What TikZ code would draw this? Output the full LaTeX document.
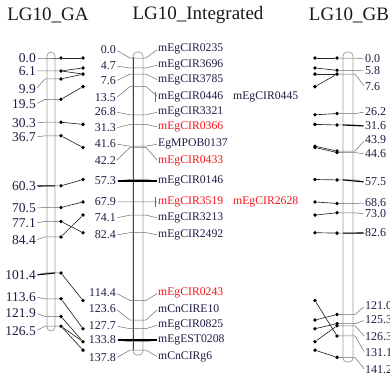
\documentclass[tikz,border=0pt]{standalone}
\usepackage{fontspec}
\setmainfont{Liberation Serif}
\definecolor{numblue}{RGB}{28,28,70}
\definecolor{mkred}{RGB}{245,20,25}
\newcommand{\mpos}[1]{{58+2.12*(#1)}}
\tikzset{
  bar/.style={draw=gray!75, line width=.8pt, rounded corners=4pt},
  tick/.style={draw=gray!85!black, line width=.5pt},
  anchorline/.style={draw=black, line width=1.1pt},
  link/.style={draw=black!85, line width=.65pt},
  dot/.style={circle, fill=black, inner sep=0pt, minimum size=3.8pt},
  num/.style={text=numblue, inner sep=0pt, font=\fontsize{12}{12}\selectfont},
  mk/.style={text=numblue, inner sep=0pt, anchor=west, font=\fontsize{11.7}{11.7}\selectfont},
  title/.style={text=black!90, inner sep=0pt, font=\fontsize{19}{19}\selectfont}
}
\begin{document}
\begin{tikzpicture}[x=1pt, y=-1pt]
\useasboundingbox (0,0) rectangle (390,378);

\node[title] (tga) at (48,15) {LG10\_GA};
\node[title] (tin) at (198,15) {LG10\_Integrated};
\node[title] (tgb) at (349,15) {LG10\_GB};

% LG10_GA
\draw[bar] (47,52) rectangle (55,331);
\foreach \p/\ly [count=\i] in {0.0/58,6.1/71,9.9/89,19.5/104,30.3/123,36.7/137,60.3/186,
    70.5/208,77.1/223,84.4/240,101.4/275,113.6/297,121.9/313,126.5/331}{
  \node[num, anchor=east, font=\fontsize{13.5}{13.5}\selectfont] (gan\i) at (36,\ly) {\p};
  \node[dot] (ga\i) at (61,\mpos{\p}) {};
  \draw[tick, shorten <=1.5pt] (gan\i.east) -- (45,\mpos{\p}) -- (ga\i);
}
\draw[anchorline, shorten <=1.5pt] (gan7.east) -- (55,\mpos{60.3});
\draw[anchorline, shorten <=1.5pt] (gan11.east) -- (55,\mpos{101.4});

% LG10_Integrated
\draw[bar] (133,52) rectangle (143,355);
\draw[black!75, line width=.8pt] (133,57) -- (133,350);
\foreach \p/\ly/\my/\nm/\c [count=\i] in {0.0/50/49/mEgCIR0235/numblue,
    4.7/66/65/mEgCIR3696/numblue, 7.6/81/80/mEgCIR3785/numblue,
    13.5/98/97/mEgCIR0446/numblue, 26.8/112/112/mEgCIR3321/numblue,
    31.3/128/127/mEgCIR0366/mkred, 41.6/144/144/EgMPOB0137/numblue,
    42.2/161/161/mEgCIR0433/mkred, 57.3/181/181/mEgCIR0146/numblue,
    67.9/202/202/mEgCIR3519/mkred, 74.1/218/218/mEgCIR3213/numblue,
    82.4/235/235/mEgCIR2492/numblue, 114.4/293/293/mEgCIR0243/mkred,
    123.6/309/309/mCnCIRE10/numblue, 127.7/326/325/mEgCIR0825/numblue,
    133.8/340/340/mEgEST0208/numblue, 137.8/358/357/mCnCIRg6/numblue}{
  \node[num, anchor=east] (inn\i) at (116,\ly) {\p};
  \node[mk, text=\c] (inm\i) at (158,\my) {\nm};
  \draw[tick, shorten <=1.5pt, shorten >=1pt] (inn\i.east) -- (130,\mpos{\p}) -- (146,\mpos{\p}) -- (inm\i.west);
}
\draw[anchorline, shorten <=1.5pt, shorten >=1pt] (inn9.east) -- (inm9.west);
\draw[anchorline, shorten <=1.5pt, shorten >=1pt] (inn16.east) -- (inm16.west);
\draw[tick] ([xshift=-3pt]inm4.north west) -- ([xshift=-3pt]inm4.south west);
\draw[tick] ([xshift=-3pt]inm10.north west) -- ([xshift=-3pt]inm10.south west);
\node[mk] (inx4) at (233,97) {mEgCIR0445};
\node[mk, text=mkred] (inx10) at (233,202) {mEgCIR2628};

% dots beside the integrated map
\foreach \i/\p in {1/0.0,2/4.7,3/7.6,4/13.5,6/31.3,8/42.2,9/57.3,10/67.9,11/74.1,
    12/82.4,13/114.4,15/127.7,16/133.8,17/137.8}
  \node[dot] (inl\i) at (83,\mpos{\p}) {};
\foreach \i/\p in {1/0.0,2/4.7,3/7.6,4/13.5,5/26.8,6/31.3,7/41.6,8/42.2,9/57.3,10/67.9,
    11/74.1,12/82.4,13/114.4,14/123.6,15/127.7,16/133.8,17/137.8}
  \node[dot] (inr\i) at (315,\mpos{\p}) {};

% LG10_GB
\draw[bar] (343,52) rectangle (353,362);
\foreach \p/\ly [count=\i] in {0.0/59,5.8/71,7.6/87,26.2/112,31.6/126,43.9/140,44.6/154,
    57.5/182,68.6/203,73.0/214,82.6/233,121.0/306,125.3/320,126.3/337,131.1/353,141.2/370}{
  \node[num, anchor=west] (gbn\i) at (365,\ly) {\p};
  \node[dot] (gb\i) at (337,\mpos{\p}) {};
  \draw[tick, shorten >=1.5pt] (gb\i) -- (355,\mpos{\p}) -- (gbn\i.west);
}
\draw[anchorline, shorten >=1.5pt] (343,\mpos{31.6}) -- (gbn5.west);
\draw[anchorline, shorten >=1.5pt] (343,\mpos{57.5}) -- (gbn8.west);
\draw[anchorline, shorten >=1.5pt] (343,\mpos{82.6}) -- (gbn11.west);

% links
\foreach \a/\b in {1/1,2/2,2/3,3/3,4/4,5/6,6/8,7/9,8/10,9/12,10/11,11/13,12/15,13/16,14/16,14/17}
  \draw[link] (ga\a) -- (inl\b);
\foreach \a/\b in {1/1,2/2,3/3,4/3,5/4,6/5,7/6,8/7,9/8,10/9,11/10,12/11,13/15,14/12,15/13,16/14,17/16}
  \draw[link] (inr\a) -- (gb\b);
\end{tikzpicture}
\end{document}
